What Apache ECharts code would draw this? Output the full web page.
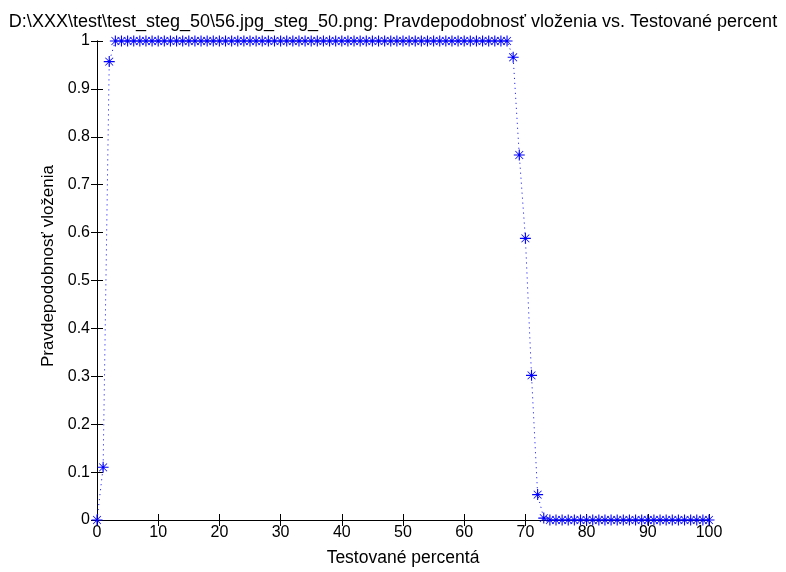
<!DOCTYPE html>
<html><head><meta charset="utf-8">
<script src="https://cdn.jsdelivr.net/npm/echarts@6/dist/echarts.min.js"></script>
<style>html,body{margin:0;padding:0;background:#fff}#c{width:786px;height:572px}</style>
</head><body><div id="c"></div>
<script>
const xValues = [0,1,2,3,4,5,6,7,8,9,10,11,12,13,14,15,16,17,18,19,20,21,22,23,24,25,26,27,28,29,30,31,32,33,34,35,36,37,38,39,40,41,42,43,44,45,46,47,48,49,50,51,52,53,54,55,56,57,58,59,60,61,62,63,64,65,66,67,68,69,70,71,72,73,74,75,76,77,78,79,80,81,82,83,84,85,86,87,88,89,90,91,92,93,94,95,96,97,98,99,100];
const yValues = [0,0.11,0.957,1,1,1,1,1,1,1,1,1,1,1,1,1,1,1,1,1,1,1,1,1,1,1,1,1,1,1,1,1,1,1,1,1,1,1,1,1,1,1,1,1,1,1,1,1,1,1,1,1,1,1,1,1,1,1,1,1,1,1,1,1,1,1,1,1,0.966,0.762,0.588,0.302,0.053,0.004,0,0,0,0,0,0,0,0,0,0,0,0,0,0,0,0,0,0,0,0,0,0,0,0,0,0,0];
const xTicks = [0,10,20,30,40,50,60,70,80,90,100];
const yTicks = [0,0.1,0.2,0.3,0.4,0.5,0.6,0.7,0.8,0.9,1];
const titleText = 'D:\\XXX\\test\\test_steg_50\\56.jpg_steg_50.png: Pravdepodobnosť vloženia vs. Testované percent';
const xName = 'Testované percentá';
const yName = 'Pravdepodobnosť vloženia';

const FONT = 'Liberation Sans';
const star = 'path://M45 0L55 0L55 100L45 100Z M0 45L100 45L100 55L0 55Z M12 17L17 12L88 83L83 88Z M83 12L88 17L17 88L12 83Z';
const axisCommon = {
  min: 0, axisLine: {show: true, lineStyle: {color: '#000', width: 1}},
  axisTick: {show: true, inside: true, length: 6, lineStyle: {color: '#000'}},
  splitLine: {show: false}
};
const chart = echarts.init(document.getElementById('c'));
chart.setOption({
  backgroundColor: '#fff',
  animation: false,
  title: {text: titleText, left: 'center', top: 8,
    textStyle: {fontFamily: FONT, fontSize: 18, fontWeight: 'normal', color: '#000'}},
  grid: {left: 97, right: 77, top: 41, bottom: 52},
  graphic: [{
    type: 'text', x: 48, y: 266, rotation: Math.PI / 2,
    style: {text: yName, fontFamily: FONT, fontSize: 17, fill: '#000', align: 'center', verticalAlign: 'middle'}
  }],
  xAxis: [
    Object.assign({}, axisCommon, {type: 'value', max: 100, interval: 10, position: 'bottom',
      name: xName, nameLocation: 'middle', nameGap: 29,
      nameTextStyle: {fontFamily: FONT, fontSize: 17.5, color: '#000'},
      axisLabel: {fontFamily: FONT, fontSize: 16, color: '#000', margin: 5,
        formatter: v => xTicks.includes(v) ? String(v) : ''}}),
    Object.assign({}, axisCommon, {type: 'value', max: 100, interval: 10, position: 'top',
      axisLabel: {show: false}})
  ],
  yAxis: [
    Object.assign({}, axisCommon, {type: 'value', max: 1, interval: 0.1, position: 'left',
      axisLabel: {fontFamily: FONT, fontSize: 16, color: '#000', margin: 7,
        formatter: v => { const t = yTicks.find(k => Math.abs(k - v) < 1e-9); return t === undefined ? '' : String(t); }}}),
    Object.assign({}, axisCommon, {type: 'value', max: 1, interval: 0.1, position: 'right',
      axisLabel: {show: false}})
  ],
  series: [{
    type: 'line',
    data: xValues.map((x, i) => [x, yValues[i]]),
    clip: false,
    symbol: star, symbolSize: 11, symbolKeepAspect: true,
    itemStyle: {color: '#0000ff'},
    lineStyle: {color: '#0000ff', width: 1, type: [1, 4]},
    z: 5
  }]
});
</script></body></html>
